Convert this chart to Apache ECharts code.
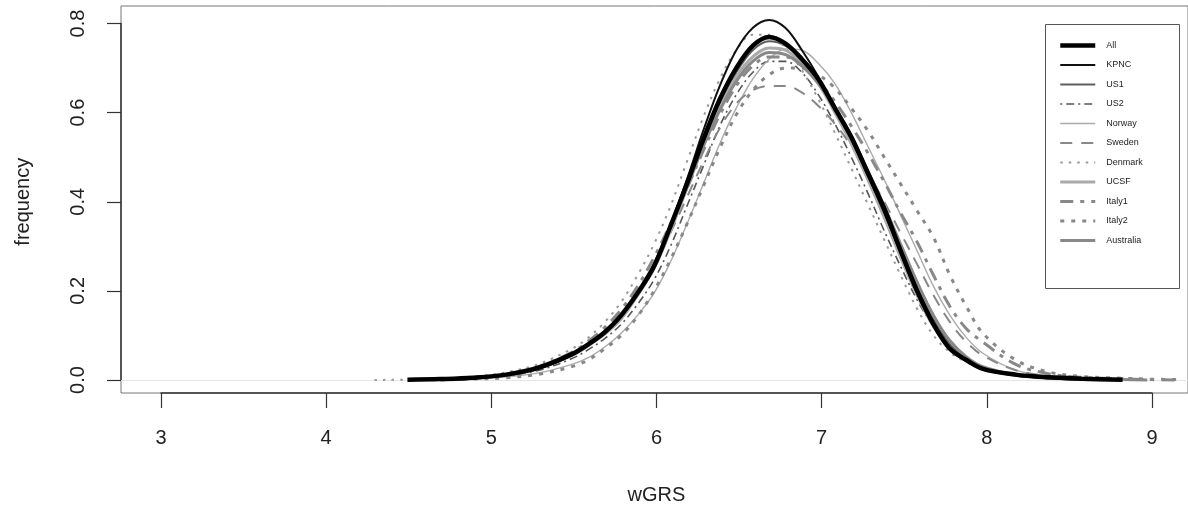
<!DOCTYPE html>
<html><head><meta charset="utf-8">
<script src="https://cdn.jsdelivr.net/npm/echarts@6/dist/echarts.min.js"></script>
<style>html,body{margin:0;padding:0;background:#fff}#c{width:1188px;height:511px}</style>
</head><body><div id="c"></div>
<script>
// ---- data ----
const xs = [4.3,4.5,4.7,4.9,5.1,5.3,5.5,5.6,5.7,5.8,5.9,6.0,6.1,6.2,6.3,6.4,6.5,6.6,6.7,6.8,6.9,7.0,7.1,7.2,7.3,7.4,7.5,7.6,7.7,7.8,7.9,8.0,8.2,8.4,8.6,8.85,9.0,9.2];
const xTickLabels = [3,4,5,6,7,8,9];
const yTickLabels = ['0.0','0.2','0.4','0.6','0.8'];
const seriesNames = ['All','KPNC','US1','US2','Norway','Sweden','Denmark','UCSF','Italy1','Italy2','Australia'];

const All      = [null,0.0005,0.002,0.005,0.012,0.028,0.058,0.08,0.107,0.145,0.195,0.255,0.345,0.44,0.54,0.63,0.70,0.75,0.77,0.755,0.72,0.675,0.61,0.545,0.465,0.385,0.29,0.20,0.125,0.07,0.045,0.025,0.012,0.006,0.003,0.0005,null,null];
const KPNC     = [null,null,0.002,0.004,0.011,0.026,0.055,0.078,0.105,0.142,0.195,0.26,0.35,0.45,0.56,0.66,0.74,0.79,0.808,0.79,0.74,0.68,0.61,0.54,0.46,0.375,0.285,0.195,0.122,0.068,0.042,0.024,0.01,0.004,0.001,null,null,null];
const US1      = [null,null,0.002,0.005,0.012,0.027,0.056,0.078,0.104,0.14,0.19,0.25,0.335,0.43,0.53,0.62,0.69,0.74,0.76,0.75,0.72,0.675,0.615,0.55,0.47,0.39,0.30,0.21,0.135,0.08,0.048,0.028,0.012,0.005,0.002,0.001,null,null];
const US2      = [null,null,0.001,0.003,0.009,0.022,0.048,0.068,0.093,0.125,0.17,0.225,0.30,0.39,0.48,0.57,0.64,0.69,0.715,0.715,0.69,0.64,0.575,0.50,0.42,0.335,0.255,0.18,0.12,0.075,0.045,0.027,0.01,0.004,0.001,null,null,null];
const Norway   = [null,null,0.001,0.003,0.007,0.016,0.035,0.05,0.074,0.105,0.145,0.195,0.265,0.35,0.44,0.53,0.61,0.675,0.72,0.743,0.74,0.71,0.665,0.60,0.525,0.45,0.37,0.29,0.21,0.145,0.095,0.06,0.022,0.008,0.003,0.001,null,null];
const Sweden   = [null,null,0.001,0.004,0.012,0.028,0.058,0.08,0.108,0.145,0.195,0.255,0.33,0.41,0.49,0.565,0.62,0.65,0.66,0.66,0.645,0.615,0.575,0.525,0.465,0.40,0.33,0.26,0.19,0.13,0.085,0.055,0.022,0.009,0.004,0.002,0.001,null];
const Denmark  = [0.0,0.001,0.003,0.008,0.017,0.036,0.07,0.095,0.13,0.175,0.235,0.305,0.39,0.49,0.59,0.675,0.74,0.775,0.775,0.745,0.695,0.63,0.555,0.475,0.395,0.315,0.235,0.16,0.10,0.062,0.04,0.025,0.01,0.004,0.001,null,null,null];
const UCSF     = [null,null,0.001,0.004,0.011,0.026,0.055,0.077,0.103,0.137,0.19,0.25,0.335,0.43,0.525,0.61,0.68,0.725,0.745,0.74,0.71,0.665,0.60,0.53,0.45,0.365,0.275,0.19,0.12,0.07,0.042,0.025,0.01,0.004,0.002,0.001,null,null];
const Italy1   = [null,null,0.001,0.004,0.012,0.03,0.062,0.087,0.118,0.158,0.21,0.275,0.35,0.43,0.515,0.595,0.66,0.705,0.725,0.725,0.705,0.67,0.625,0.57,0.51,0.445,0.375,0.31,0.235,0.165,0.115,0.085,0.035,0.014,0.006,0.003,0.001,0.0];
const Italy2   = [null,null,0.0,0.002,0.005,0.013,0.03,0.045,0.07,0.10,0.143,0.20,0.27,0.35,0.435,0.52,0.595,0.65,0.685,0.70,0.70,0.685,0.655,0.61,0.56,0.50,0.44,0.38,0.32,0.235,0.165,0.105,0.045,0.018,0.008,0.004,0.002,0.001];
const Australia= [null,null,0.001,0.004,0.011,0.027,0.057,0.08,0.107,0.143,0.197,0.26,0.345,0.435,0.525,0.605,0.67,0.715,0.735,0.73,0.705,0.665,0.61,0.545,0.47,0.39,0.305,0.22,0.145,0.088,0.052,0.03,0.012,0.005,0.002,0.001,0.0,null];

const seriesValues = {All, KPNC, US1, US2, Norway, Sweden, Denmark, UCSF, Italy1, Italy2, Australia};

// ---- styles ----
const styles = {
  All:      {color:'#000000', width:4.5, type:'solid', z:10},
  KPNC:     {color:'#111111', width:2,   type:'solid', z:9},
  US1:      {color:'#5e5e5e', width:2,   type:'solid', z:3},
  US2:      {color:'#555555', width:1.6, type:[2,4,8,4], z:3},
  Norway:   {color:'#aaaaaa', width:1.4, type:'solid', z:3},
  Sweden:   {color:'#888888', width:2,   type:[12,9], z:3},
  Denmark:  {color:'#999999', width:2,   type:[2.5,6], z:3},
  UCSF:     {color:'#aaaaaa', width:3,   type:'solid', z:3},
  Italy1:   {color:'#888888', width:3,   type:[13,7,4,7], z:3},
  Italy2:   {color:'#888888', width:3,   type:[4,7], z:3},
  Australia:{color:'#888888', width:3,   type:'solid', z:3}
};

const FONT = 'Liberation Sans, Arial, Helvetica, sans-serif';

const series = seriesNames.map(name => {
  const vals = seriesValues[name];
  const st = styles[name];
  return {
    name: name,
    type: 'line',
    xAxisIndex: 0, yAxisIndex: 0,
    data: xs.map((x, i) => [x, vals[i]]).filter(p => p[1] !== null),
    smooth: 0.35,
    symbol: 'none',
    showSymbol: false,
    silent: true,
    z: st.z,
    lineStyle: {color: st.color, width: st.width, type: st.type, cap: 'butt'},
    itemStyle: {color: st.color}
  };
});

const chart = echarts.init(document.getElementById('c'), null, {renderer: 'canvas'});
chart.setOption({
  animation: false,
  backgroundColor: '#ffffff',
  grid: [
    // data region (plot box)
    {left: 121, right: -5, top: 6, bottom: 118, show: true, borderColor: '#777', borderWidth: 1, backgroundColor: 'transparent'},
    // labelled x axis (3..9) on the box bottom
    {left: 161, right: 36, top: 6, bottom: 118},
    // labelled y axis (0..0.8) on the box left
    {left: 121, right: 36, top: 23.5, bottom: 131}
  ],
  xAxis: [
    {gridIndex: 0, type: 'value', min: 2.7578, max: 9.248,
     axisLine: {show: true, onZero: true, lineStyle: {color: '#e6e6e6', width: 1}},
     axisTick: {show: false}, axisLabel: {show: false}, splitLine: {show: false}},
    {gridIndex: 1, type: 'value', min: xTickLabels[0], max: xTickLabels[xTickLabels.length-1], interval: 1,
     position: 'bottom',
     axisLine: {show: true, onZero: false, lineStyle: {color: '#333', width: 1.5}},
     axisTick: {show: true, length: 15, lineStyle: {color: '#333', width: 1.2}},
     axisLabel: {margin: 35, fontSize: 20, color: '#222', fontFamily: FONT},
     splitLine: {show: false},
     name: 'wGRS', nameLocation: 'middle', nameGap: 92,
     nameTextStyle: {fontSize: 20, color: '#222', fontFamily: FONT}},
    {gridIndex: 2, type: 'value', min: 0, max: 1, show: false}
  ],
  yAxis: [
    {gridIndex: 0, type: 'value', min: -0.0292, max: 0.8393, show: false},
    {gridIndex: 1, type: 'value', min: 0, max: 1, show: false},
    {gridIndex: 2, type: 'value', min: 0, max: 0.8, interval: 0.2,
     position: 'left',
     axisLine: {show: true, onZero: false, lineStyle: {color: '#333', width: 1.5}},
     axisTick: {show: true, length: 14, lineStyle: {color: '#333', width: 1.2}},
     axisLabel: {rotate: 90, margin: 33, fontSize: 20, color: '#222', fontFamily: FONT,
                 formatter: v => yTickLabels[Math.round(v / 0.2)]},
     splitLine: {show: false},
     name: 'frequency', nameLocation: 'middle', nameGap: 88, nameRotate: 90,
     nameTextStyle: {fontSize: 20, color: '#222', fontFamily: FONT}}
  ],
  legend: {
    orient: 'vertical', left: 1058, top: 40.7, padding: 0,
    itemWidth: 35, itemHeight: 12, itemGap: 9.9,
    selectedMode: false,
    data: seriesNames,
    lineStyle: {width: 'inherit'},
    itemStyle: {color: 'rgba(0,0,0,0)', borderColor: 'rgba(0,0,0,0)', borderWidth: 0},
    textStyle: {fontSize: 9, color: '#222', fontFamily: FONT, padding: [0, 0, 0, 6]}
  },
  graphic: [
    {type: 'rect', silent: true, shape: {x: 1045.5, y: 24.5, width: 134, height: 264},
     style: {fill: 'none', stroke: '#555', lineWidth: 1}}
  ],
  series: series
});
</script>
</body></html>
